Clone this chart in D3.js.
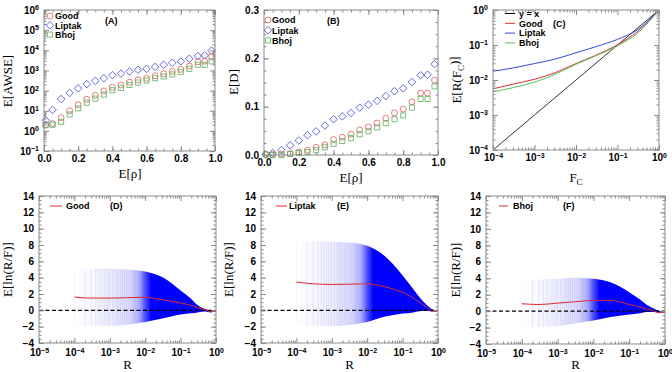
<!DOCTYPE html>
<html>
<head>
<meta charset="utf-8">
<script src="https://cdn.jsdelivr.net/npm/d3@7"></script>
<style>
  body { margin: 0; background: #fff; }
  text { font-family: "Liberation Sans", Arial, sans-serif; }
  .tick text { font-weight: bold; font-size: 10px; fill: #000; }
  .lab { font-weight: bold; font-size: 9px; }
  .title { font-family: "Liberation Serif", "Times New Roman", serif; font-size: 13px; }
</style>
</head>
<body>
<svg id="fig" width="672" height="372"></svg>
<script>
// ---- data ----
const rho = [0.01, 0.05, 0.1, 0.15, 0.2, 0.25, 0.3, 0.35, 0.4, 0.45, 0.5, 0.55, 0.6, 0.65, 0.7, 0.75, 0.8, 0.85, 0.9, 0.94, 0.98];

// panel A : E[AWSE]
const awseGood   = [2.0, 2.3, 4.5, 10, 20, 37, 58, 96, 146, 190, 260, 340, 410, 540, 680, 890, 1120, 1650, 2700, 2900, 4800];
const awseLiptak = [3.3, 11, 38, 76, 130, 208, 305, 410, 580, 700, 890, 1080, 1200, 1500, 1900, 2400, 2800, 3800, 5200, 5600, 9600];
const awseBhoj   = [1.9, 2.0, 2.8, 6.5, 13, 25, 40, 63, 104, 135, 190, 250, 316, 410, 500, 630, 820, 1200, 1900, 1900, 2800];

// panel B : E[D]
const dGood   = [0.001, 0.001, 0.002, 0.003, 0.006, 0.010, 0.016, 0.021, 0.032, 0.037, 0.043, 0.052, 0.058, 0.066, 0.076, 0.087, 0.095, 0.110, 0.128, 0.128, 0.155];
const dLiptak = [0.001, 0.004, 0.010, 0.020, 0.030, 0.041, 0.049, 0.061, 0.074, 0.080, 0.087, 0.098, 0.104, 0.112, 0.122, 0.132, 0.138, 0.151, 0.165, 0.166, 0.188];
const dBhoj   = [0.001, 0.000, 0.000, 0.002, 0.004, 0.006, 0.010, 0.016, 0.023, 0.029, 0.035, 0.043, 0.049, 0.057, 0.066, 0.074, 0.082, 0.098, 0.116, 0.116, 0.142];

// panel C : E[R(Fc)]
const fc        = [1e-4, 3e-4, 1e-3, 3e-3, 1e-2, 3e-2, 1e-1, 3e-1, 1];
const rcGood    = [0.0056, 0.0076, 0.0105, 0.0158, 0.0295, 0.051, 0.102, 0.24, 1.0];
const rcLiptak  = [0.0178, 0.022, 0.0295, 0.039, 0.060, 0.089, 0.145, 0.27, 1.0];
const rcBhoj    = [0.0046, 0.006, 0.0087, 0.0141, 0.0282, 0.049, 0.095, 0.214, 1.0];

// panels D-F : E[ln(R/F)] with spread
const rVals = [1e-4, 3e-4, 1e-3, 3e-3, 1e-2, 3e-2, 1e-1, 2e-1, 3e-1, 5e-1, 7e-1, 1];
const goodHi   = [5.0, 5.05, 5.08, 5.0, 4.76, 4.07, 2.44, 1.4, 0.65, 0.15, 0.0, -0.05];
const goodLo   = [-1.63, -1.9, -1.9, -1.75, -1.42, -1.0, -0.5, -0.35, -0.25, -0.15, -0.25, -0.15];
const goodMean = [1.63, 1.5, 1.5, 1.55, 1.6, 1.3, 0.9, 0.6, 0.33, 0.05, -0.15, -0.1];
const liptakHi   = [8.4, 8.45, 8.4, 8.3, 7.9, 6.7, 4.27, 2.6, 1.6, 0.6, 0.1, -0.05];
const liptakLo   = [-1.63, -1.9, -1.95, -1.8, -1.42, -0.8, -0.4, -0.25, -0.1, -0.05, -0.15, -0.1];
const liptakMean = [3.46, 3.25, 3.17, 3.2, 3.25, 2.9, 2.2, 1.5, 1.0, 0.3, -0.1, -0.1];
const bhojHi   = [3.72, 3.85, 3.93, 4.05, 3.93, 3.5, 2.3, 1.4, 0.8, 0.3, 0.05, -0.05];
const bhojLo   = [-1.94, -1.9, -1.82, -1.5, -1.13, -0.73, -0.4, -0.25, -0.12, -0.1, -0.2, -0.15];
const bhojMean = [0.9, 0.8, 0.97, 1.13, 1.3, 1.3, 0.8, 0.5, 0.28, 0.0, -0.2, -0.15];
// positions of the individual (sparse) error bars that are still visible
const barR = [1e-4, 2e-4, 3e-4, 4e-4, 5e-4, 6e-4, 7e-4, 8e-4, 9e-4, 1e-3, 1.2e-3, 1.4e-3, 1.6e-3, 1.8e-3, 2e-3, 2.3e-3, 2.6e-3, 3e-3, 3.5e-3, 4e-3, 4.5e-3, 5e-3];

// tick labels
const linTicks = [0, 0.2, 0.4, 0.6, 0.8, 1.0];
const awseTicks = [1e-1, 1e0, 1e1, 1e2, 1e3, 1e4, 1e5, 1e6];
const dTicks = [0, 0.1, 0.2, 0.3];
const logTicks4 = [1e-4, 1e-3, 1e-2, 1e-1, 1];
const logTicks5 = [1e-5, 1e-4, 1e-3, 1e-2, 1e-1, 1];
const lnTicks = [-4, -2, 0, 2, 4, 6, 8, 10, 12, 14];

// ---- helpers ----
const svg = d3.select('#fig');
const defs = svg.append('defs');
const RED = '#e05a5a', BLUE = '#4040d4', GREEN = '#55b055';
const FRAME = '#8a8a8a';

function logMinor(lo, hi) {
    const out = [];
    for (let e = Math.round(Math.log10(lo)); e < Math.round(Math.log10(hi)); e++)
        for (let k = 2; k <= 9; k++) out.push(k * Math.pow(10, e));
    return out;
}
function linMinor(lo, hi, step) {
    const out = [];
    for (let v = lo; v <= hi + 1e-9; v += step) out.push(+v.toFixed(6));
    return out;
}
function supLabels(sel) {
    sel.selectAll('.tick text').each(function (d) {
        const e = Math.round(Math.log10(d));
        const t = d3.select(this).text(null);
        t.append('tspan').text('10');
        t.append('tspan').attr('dy', '-0.5em').style('font-size', '7px')
            .text(e < 0 ? '\u2212' + (-e) : e);
    });
}

// frame with inward ticks on all four sides
function frame(g, x, y, o) {
    const w = x.range()[1] - x.range()[0], h = y.range()[0] - y.range()[1];
    const add = (axis, tr) => {
        const a = g.append('g').attr('transform', tr).call(axis);
        a.select('.domain').remove();
        a.selectAll('line').attr('stroke', FRAME);
        return a;
    };
    const bx = add(d3.axisBottom(x).tickValues(o.xt).tickSize(-5).tickPadding(o.xpad || 4).tickFormat(o.xf || d3.format('.1f')), `translate(0,${h})`);
    add(d3.axisBottom(x).tickValues(o.xm).tickSize(-2.5).tickFormat(''), `translate(0,${h})`);
    add(d3.axisTop(x).tickValues(o.xt).tickSize(-5).tickFormat(''), 'translate(0,0)');
    add(d3.axisTop(x).tickValues(o.xm).tickSize(-2.5).tickFormat(''), 'translate(0,0)');
    const by = add(d3.axisLeft(y).tickValues(o.yt).tickSize(-5).tickPadding(5).tickFormat(o.yf || d3.format('.1f')), 'translate(0,0)');
    add(d3.axisLeft(y).tickValues(o.ym).tickSize(-2.5).tickFormat(''), 'translate(0,0)');
    add(d3.axisRight(y).tickValues(o.yt).tickSize(-5).tickFormat(''), `translate(${w},0)`);
    add(d3.axisRight(y).tickValues(o.ym).tickSize(-2.5).tickFormat(''), `translate(${w},0)`);
    if (o.xlog) supLabels(bx);
    if (o.ylog) supLabels(by);
    g.append('rect').attr('width', w).attr('height', h)
        .attr('fill', 'none').attr('stroke', FRAME).attr('stroke-width', 1);
}

function panel(box) {
    return svg.append('g').attr('transform', `translate(${box.x0},${box.y0})`);
}

function markers(g, x, y, xs, ys, shape, color, size) {
    g.selectAll(null).data(xs.map((v, i) => [v, ys[i]])).join('path')
        .attr('transform', d => `translate(${x(d[0])},${y(d[1])})`)
        .attr('d', d3.symbol().type(shape).size(size))
        .attr('fill', 'none').attr('stroke', color).attr('stroke-width', 0.8);
}

function title(t, parts) {
    parts.forEach(p => {
        const s = t.append('tspan').text(p[0]);
        if (p[1]) s.attr('dy', '0.3em').style('font-size', '9px');
        if (p[2]) s.attr('dy', '-0.4em');
    });
}
function yTitle(cx, cy, parts) {
    title(svg.append('text').attr('class', 'title')
        .attr('transform', `translate(${cx},${cy}) rotate(-90)`).attr('text-anchor', 'middle'), parts);
}
function xTitle(cx, cy, parts) {
    title(svg.append('text').attr('class', 'title').attr('x', cx).attr('y', cy).attr('text-anchor', 'middle'), parts);
}

// gnuplot style diamond
const diamond = {
    draw(ctx, size) {
        const r = Math.sqrt(size) / 1.45;
        ctx.moveTo(0, -r); ctx.lineTo(r, 0); ctx.lineTo(0, r); ctx.lineTo(-r, 0); ctx.closePath();
    }
};
const legA = [['Good', d3.symbolCircle, RED, 28], ['Liptak', diamond, BLUE, 30], ['Bhoj', d3.symbolSquare, GREEN, 26]];

// ---- panel A ----
{
    const b = { x0: 44, y0: 10, x1: 215, y1: 151 };
    const g = panel(b);
    const x = d3.scaleLinear().domain([0, 1]).range([0, b.x1 - b.x0]);
    const y = d3.scaleLog().domain([1e-1, 1e6]).range([b.y1 - b.y0, 0]);
    markers(g, x, y, rho, awseLiptak, diamond, BLUE, 30);
    markers(g, x, y, rho, awseGood, d3.symbolCircle, RED, 28);
    markers(g, x, y, rho, awseBhoj, d3.symbolSquare, GREEN, 26);
    frame(g, x, y, { xt: linTicks, xm: linMinor(0, 1, 0.05), yt: awseTicks, ym: logMinor(1e-1, 1e6), ylog: true });
    legA.forEach((l, i) => {
        g.append('path').attr('transform', `translate(6,${6 + i * 9.3})`)
            .attr('d', d3.symbol().type(l[1]).size(l[3])).attr('fill', 'none').attr('stroke', l[2]).attr('stroke-width', 0.8);
        g.append('text').attr('class', 'lab').attr('x', 11).attr('y', 9.3 + i * 9.3).text(l[0]);
    });
    g.append('text').attr('class', 'lab').attr('x', 61).attr('y', 14).text('(A)');
    yTitle(12, 81, [['E[AWSE]']]);
    xTitle(130, 178, [['E[\u03c1]']]);
}

// ---- panel B ----
{
    const b = { x0: 264, y0: 10, x1: 438, y1: 155 };
    const g = panel(b);
    const x = d3.scaleLinear().domain([0, 1]).range([0, b.x1 - b.x0]);
    const y = d3.scaleLinear().domain([0, 0.3]).range([b.y1 - b.y0, 0]);
    markers(g, x, y, rho, dLiptak, diamond, BLUE, 30);
    markers(g, x, y, rho, dGood, d3.symbolCircle, RED, 28);
    markers(g, x, y, rho, dBhoj, d3.symbolSquare, GREEN, 26);
    frame(g, x, y, { xt: linTicks, xm: linMinor(0, 1, 0.05), yt: dTicks, ym: linMinor(0, 0.3, 0.025) });
    legA.forEach((l, i) => {
        g.append('path').attr('transform', `translate(4,${10 + i * 10.2})`)
            .attr('d', d3.symbol().type(l[1]).size(l[3])).attr('fill', 'none').attr('stroke', l[2]).attr('stroke-width', 0.8);
        g.append('text').attr('class', 'lab').attr('x', 8).attr('y', 13.3 + i * 10.2).text(l[0]);
    });
    g.append('text').attr('class', 'lab').attr('x', 63).attr('y', 13.5).text('(B)');
    yTitle(238, 82, [['E[D]']]);
    xTitle(351, 182, [['E[\u03c1]']]);
}

// ---- panel C ----
{
    const b = { x0: 493, y0: 10, x1: 659, y1: 150 };
    const g = panel(b);
    const x = d3.scaleLog().domain([1e-4, 1]).range([0, b.x1 - b.x0]);
    const y = d3.scaleLog().domain([1e-4, 1]).range([b.y1 - b.y0, 0]);
    const line = d3.line().x(d => x(d[0])).y(d => y(d[1])).curve(d3.curveMonotoneX);
    const series = [['y = x', fc, '#000', 0.8], ['Good', rcGood, '#d83030', 1], ['Liptak', rcLiptak, '#3848e0', 1], ['Bhoj', rcBhoj, '#5cc05c', 1]];
    series.forEach(s => {
        const pts = s[0] === 'y = x' ? [[1e-4, 1e-4], [1, 1]] : fc.map((v, i) => [v, s[1][i]]);
        g.append('path').attr('d', line(pts)).attr('fill', 'none').attr('stroke', s[2]).attr('stroke-width', s[3]);
    });
    frame(g, x, y, { xt: logTicks4, xm: logMinor(1e-4, 1), yt: logTicks4, ym: logMinor(1e-4, 1), xlog: true, ylog: true });
    series.forEach((s, i) => {
        const yy = 3.5 + i * 9.8;
        g.append('line').attr('x1', 12).attr('x2', 22).attr('y1', yy).attr('y2', yy).attr('stroke', s[2]).attr('stroke-width', 1);
        g.append('text').attr('class', 'lab').attr('x', 26).attr('y', yy + 3.2).text(s[0]);
    });
    g.append('text').attr('class', 'lab').attr('x', 60).attr('y', 17).text('(C)');
    yTitle(461, 80, [['E[R(F'], ['C', true], [')]', false, true]]);
    xTitle(576, 182, [['F'], ['C', true]]);
}

// ---- panels D, E, F ----
const lower = [
    { name: 'Good', tag: '(D)', hi: goodHi, lo: goodLo, mean: goodMean, b: { x0: 39, y0: 196, x1: 216, y1: 343 }, leg: [11, 23, 27, 71], yt: 7 },
    { name: 'Liptak', tag: '(E)', hi: liptakHi, lo: liptakLo, mean: liptakMean, b: { x0: 261, y0: 196, x1: 438, y1: 343 }, leg: [15, 26, 28, 76], yt: 228 },
    { name: 'Bhoj', tag: '(F)', hi: bhojHi, lo: bhojLo, mean: bhojMean, b: { x0: 486, y0: 196, x1: 665, y1: 344 }, leg: [13, 22, 27, 77], yt: 455 }
];
// opacity ramp of the dense error-bar region
const rampR = [1e-4, 1e-3, 4e-3, 7e-3, 1e-2, 1.5e-2, 1];
const rampA = [0.0, 0.06, 0.15, 0.35, 0.7, 1, 1];

lower.forEach((p, k) => {
    const b = p.b;
    const g = panel(b);
    const x = d3.scaleLog().domain([1e-5, 1]).range([0, b.x1 - b.x0]);
    const y = d3.scaleLinear().domain([-4, 14]).range([b.y1 - b.y0, 0]);
    const rows = rVals.map((r, i) => ({ r, hi: p.hi[i], lo: p.lo[i], m: p.mean[i] }));

    const gid = 'ramp' + k, cid = 'band' + k;
    const grad = defs.append('linearGradient').attr('id', gid)
        .attr('gradientUnits', 'userSpaceOnUse').attr('x1', x(1e-4)).attr('x2', x(1)).attr('y1', 0).attr('y2', 0);
    rampR.forEach((r, i) => grad.append('stop')
        .attr('offset', (x(r) - x(1e-4)) / (x(1) - x(1e-4)))
        .attr('stop-color', '#0000ff').attr('stop-opacity', rampA[i]));

    const area = d3.area().x(d => x(d.r)).y0(d => y(d.lo)).y1(d => y(d.hi)).curve(d3.curveMonotoneX);
    defs.append('clipPath').attr('id', cid).append('path').attr('d', area(rows));
    g.append('path').attr('d', area(rows)).attr('fill', `url(#${gid})`);
    g.append('g').attr('clip-path', `url(#${cid})`).selectAll('line').data(barR).join('line')
        .attr('x1', d => x(d)).attr('x2', d => x(d)).attr('y1', y(14)).attr('y2', y(-4))
        .attr('stroke', '#7a7ad8').attr('stroke-opacity', 0.22).attr('stroke-width', 0.7);

    g.append('line').attr('x1', 0).attr('x2', x(1)).attr('y1', y(0)).attr('y2', y(0))
        .attr('stroke', '#000').attr('stroke-width', 1.2).attr('stroke-dasharray', '4,2.5');
    g.append('path').attr('d', d3.line().x(d => x(d.r)).y(d => y(d.m)).curve(d3.curveMonotoneX)(rows))
        .attr('fill', 'none').attr('stroke', '#e02828').attr('stroke-width', 1);

    frame(g, x, y, { xt: logTicks5, xm: logMinor(1e-5, 1), yt: lnTicks, ym: linMinor(-4, 14, 0.5), xlog: true, xpad: 6, yf: d3.format('d') });

    g.append('line').attr('x1', p.leg[0]).attr('x2', p.leg[1]).attr('y1', 10).attr('y2', 10)
        .attr('stroke', '#e02828').attr('stroke-width', 1);
    g.append('text').attr('class', 'lab').attr('x', p.leg[2]).attr('y', 13.2).text(p.name);
    g.append('text').attr('class', 'lab').attr('x', p.leg[3]).attr('y', 13.2).text(p.tag);

    yTitle(p.yt + 5, (b.y0 + b.y1) / 2, [['E[ln(R/F)]']]);
    xTitle((b.x0 + b.x1) / 2, 369, [['R']]);
});
</script>
</body>
</html>
